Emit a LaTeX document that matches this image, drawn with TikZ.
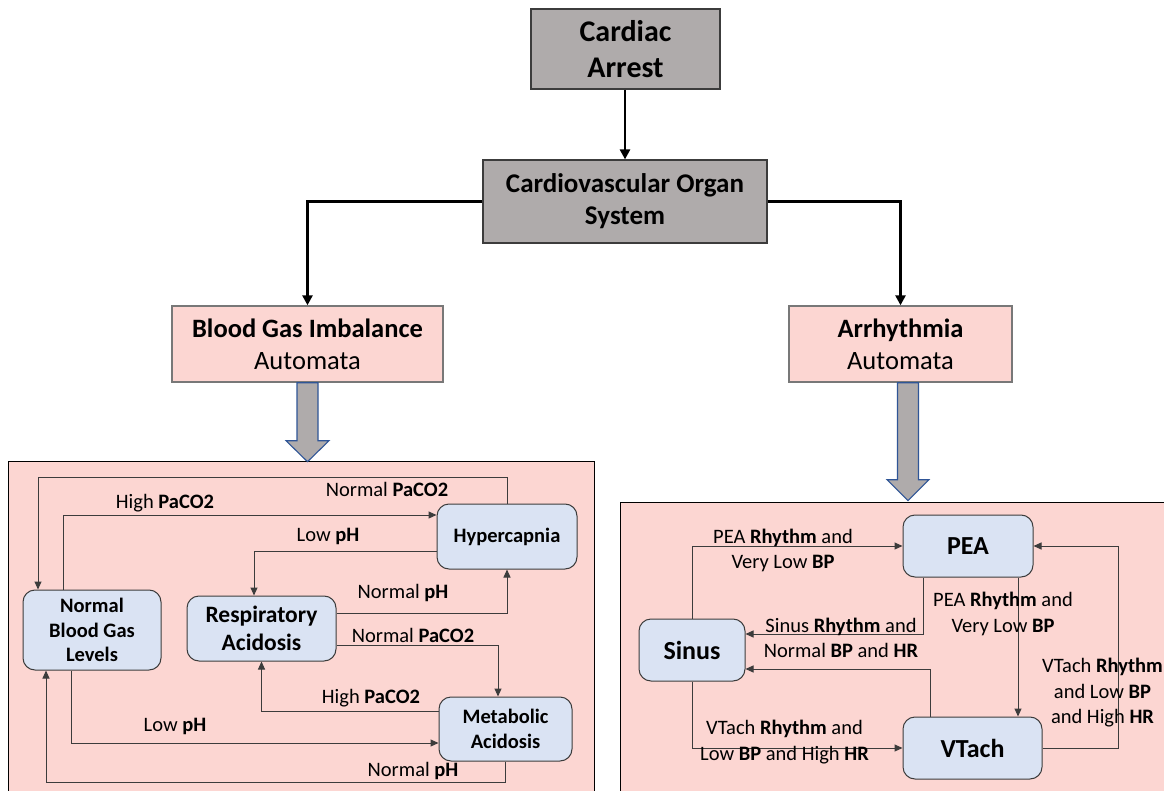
\documentclass[tikz,border=0pt]{standalone}
\usepackage{fontspec}
\setmainfont{Carlito}
\usetikzlibrary{arrows.meta}

\definecolor{graybox}{RGB}{175,171,171}
\definecolor{pinkbg}{RGB}{252,214,210}
\definecolor{bluenode}{RGB}{218,227,243}
\definecolor{arrowblue}{RGB}{47,85,151}
\definecolor{edgegray}{RGB}{60,60,60}
\definecolor{autoedge}{RGB}{120,120,120}

\begin{document}
\begin{tikzpicture}[x=1pt,y=-1pt,
  topbox/.style={draw=edgegray, line width=1.2pt, fill=graybox, align=center, inner sep=0pt},
  autobox/.style={draw=autoedge, line width=1.4pt, fill=pinkbg, align=center, inner sep=0pt,
    font=\fontsize{26.5}{32}\selectfont},
  statebox/.style={draw=edgegray, line width=1pt, fill=bluenode, rounded corners=12pt,
    align=center, inner sep=0pt, font=\fontsize{20.5}{24.5}\selectfont\bfseries},
  lbl/.style={inner sep=0pt, align=center, font=\fontsize{20.5}{25.5}\selectfont},
  mainarrow/.style={line width=2.6pt, -{Triangle[length=10pt,width=10pt]}},
  conn/.style={draw=edgegray, line width=1pt, -{Triangle[length=8pt,width=7pt]}},
  blockarrow/.style={draw=arrowblue, line width=1.1pt, fill=graybox, line join=miter},
  panelline/.style={draw=black, line width=0.9pt}
]
\useasboundingbox (0,0) rectangle (1164,791);
\fill[white] (0,0) rectangle (1164,791);

% ---------- background panels for the two automata ----------
\fill[pinkbg] (8,461) rectangle (594,791);
\draw[panelline] (8,791) -- (8,461) -- (594,461) -- (594,791);
\fill[pinkbg] (620,502) rectangle (1164,791);
\draw[panelline] (620,791) -- (620,502) -- (1164,502);

% ---------- hierarchy at the top ----------
\node[topbox, minimum width=189, minimum height=80, font=\fontsize{30}{36}\selectfont\bfseries]
  (cardiac) at (625.5,49) {Cardiac\\Arrest};
\node[topbox, minimum width=284, minimum height=83, font=\fontsize{27}{32}\selectfont\bfseries]
  (cvs) at (625,201.5) {Cardiovascular Organ\\System};
\node[autobox, minimum width=271, minimum height=76]
  (bga) at (307.5,344) {\textbf{Blood Gas Imbalance}\\Automata};
\node[autobox, minimum width=223, minimum height=76]
  (arr) at (900.5,344) {\textbf{Arrhythmia}\\Automata};

\draw[mainarrow] (cardiac.south -| cvs.north) -- (cvs.north);
\draw[mainarrow] (cvs.west) -| (bga.north);
\draw[mainarrow] (cvs.east) -| (arr.north);

% block arrows leading into each automaton
\draw[blockarrow] ([xshift=-10.5pt]bga.south) -- ++(0,58) -- ++(-11,0) -- ++(21.5,21)
  -- ++(21.5,-21) -- ++(-11,0) -- ++(0,-58) -- cycle;
\draw[blockarrow] ([xshift=-3pt]arr.south) -- ++(0,97) -- ++(-10.5,0) -- ++(21,21)
  -- ++(21,-21) -- ++(-10.5,0) -- ++(0,-97) -- cycle;

% ---------- blood gas imbalance automaton ----------
\node[statebox, minimum width=138, minimum height=80] (norm) at (92,630) {Normal\\Blood Gas\\Levels};
\node[statebox, minimum width=149, minimum height=65, font=\fontsize{23.5}{28}\selectfont\bfseries]
  (resp) at (261.5,628.5) {Respiratory\\Acidosis};
\node[statebox, minimum width=140, minimum height=65] (hyp) at (507,536.5) {Hypercapnia};
\node[statebox, minimum width=133, minimum height=64] (meta) at (505.5,729) {Metabolic\\Acidosis};

\draw[conn] (hyp.north) -- (hyp.north |- 0,477) -| (norm.north -| 38,0);
\draw[conn] (norm.north -| 63,0) |- (hyp.west |- 0,515);
\draw[conn] (hyp.west |- 0,551) -| (resp.north -| 254,0);
\draw[conn] (resp.east |- 0,613) -| (hyp.south);
\draw[conn] (resp.east |- 0,645) -| (meta.north -| 498,0);
\draw[conn] (meta.west |- 0,711) -| (resp.south);
\draw[conn] (norm.south -| 71,0) |- (meta.west |- 0,743);
\draw[conn] (meta.south) -- (meta.south |- 0,782) -| (norm.south -| 46,0);

\node[lbl] (l1) at (387,489) {Normal \textbf{PaCO2}};
\node[lbl] (l2) at (165,503) {High \textbf{PaCO2}};
\node[lbl] (l3) at (328,536) {Low \textbf{pH}};
\node[lbl] (l4) at (403,593) {Normal \textbf{pH}};
\node[lbl] (l5) at (413,635) {Normal \textbf{PaCO2}};
\node[lbl] (l6) at (371,698) {High \textbf{PaCO2}};
\node[lbl] (l7) at (175,726) {Low \textbf{pH}};
\node[lbl] (l8) at (413,771) {Normal \textbf{pH}};

% ---------- arrhythmia automaton ----------
\node[statebox, minimum width=130, minimum height=62, font=\fontsize{26}{30}\selectfont\bfseries]
  (pea) at (968,546) {PEA};
\node[statebox, minimum width=106, minimum height=62, font=\fontsize{26}{30}\selectfont\bfseries]
  (sinus) at (692,650) {Sinus};
\node[statebox, minimum width=139, minimum height=62, font=\fontsize{26}{30}\selectfont\bfseries]
  (vtach) at (972.5,748) {VTach};

\draw[conn] (sinus.north) |- (pea.west);
\draw[conn] (pea.south -| 923,0) |- (sinus.east |- 0,634);
\draw[conn] (pea.south -| 1018,0) -- (vtach.north -| 1018,0);
\draw[conn] (vtach.north -| 930,0) |- (sinus.east |- 0,669);
\draw[conn] (sinus.south) |- (vtach.west);
\draw[conn] (vtach.east) -- (vtach.east -| 1118,0) |- (pea.east);

\node[lbl] (r1) at (783,550.5) {PEA \textbf{Rhythm} and\\Very Low \textbf{BP}};
\node[lbl] (r2) at (841,638) {Sinus \textbf{Rhythm} and\\Normal \textbf{BP} and \textbf{HR}};
\node[lbl] (r3) at (1003,614) {PEA \textbf{Rhythm} and\\Very Low \textbf{BP}};
\node[lbl] (r4) at (784.5,742) {VTach \textbf{Rhythm} and\\Low \textbf{BP} and High \textbf{HR}};
\node[lbl] (r5) at (1102.5,693) {VTach \textbf{Rhythm}\\and Low \textbf{BP}\\and High \textbf{HR}};
\end{tikzpicture}
\end{document}
